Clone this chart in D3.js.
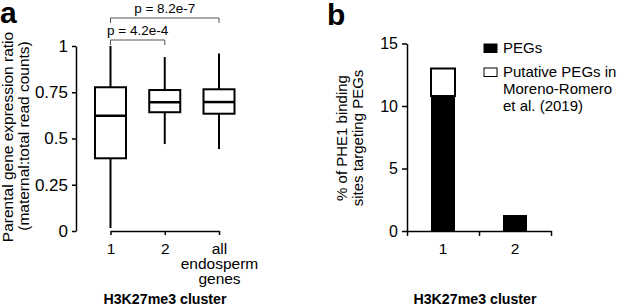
<!DOCTYPE html>
<html>
<head>
<meta charset="utf-8">
<script src="https://cdn.jsdelivr.net/npm/d3@7"></script>
<style>
  body { margin: 0; background: #fff; }
  svg { display: block; font-family: "Liberation Sans", Arial, sans-serif; }
  .axis path, .axis line { stroke: #000; stroke-width: 1.5; }
  .axis text { font-size: 15.5px; fill: #000; }
  .axis.ya text { font-size: 17px; }
  .axis.yb text { font-size: 16px; }
</style>
</head>
<body>
<svg id="chart" width="617" height="306"></svg>
<script>
// panel a: boxplot values
const boxCats = ["1", "2", "all endosperm genes"],
    whiskerLow = [0.016, 0.47, 0.443],
    q1 = [0.393, 0.642, 0.634],
    median = [0.623, 0.696, 0.697],
    q3 = [0.777, 0.762, 0.766],
    whiskerHigh = [1.0, 0.94, 0.96],
    aTicks = [0, 0.25, 0.5, 0.75, 1];

const pvals = [
    { from: "1", to: "2", label: "p = 4.2e-4", y: 40 },
    { from: "1", to: "all endosperm genes", label: "p = 8.2e-7", y: 18 }
];

// panel b: stacked bars
const barCats = ["1", "2"],
    pegs = [10.8, 1.28],
    putative = [2.2, 0],
    bTicks = [0, 5, 10, 15],
    legendLabels = ["PEGs", "Putative PEGs in|Moreno-Romero|et al. (2019)"];

const svg = d3.select("#chart");

// ---------- panel a ----------
const xa = d3.scalePoint().domain(boxCats).range([110.5, 219]),
    ya = d3.scaleLinear().domain([0, 1]).range([231, 46]),
    boxW = 31;

svg.append("g").attr("class", "axis ya")
    .attr("transform", "translate(76,0)")
    .call(d3.axisLeft(ya).tickValues(aTicks).tickSize(4).tickSizeOuter(0).tickPadding(4)
        .tickFormat(d => String(d)));

const xAxA = svg.append("g").attr("class", "axis")
    .attr("transform", "translate(0,231)")
    .call(d3.axisBottom(xa).tickSize(4).tickSizeOuter(0).tickPadding(8));
xAxA.selectAll(".tick text").each(function(d) {
    const t = d3.select(this), words = d.split(" ");
    t.text(null);
    words.forEach((w, i) => t.append("tspan").attr("x", 0).attr("dy", i === 0 ? "0.71em" : 15).text(w));
});

const boxes = svg.append("g").selectAll("g").data(boxCats).enter().append("g");
boxes.append("line")
    .attr("x1", d => xa(d)).attr("x2", d => xa(d))
    .attr("y1", (d, i) => ya(whiskerLow[i])).attr("y2", (d, i) => ya(whiskerHigh[i]))
    .attr("stroke", "#000").attr("stroke-width", 2);
boxes.append("rect")
    .attr("x", d => xa(d) - boxW / 2).attr("width", boxW)
    .attr("y", (d, i) => ya(q3[i])).attr("height", (d, i) => ya(q1[i]) - ya(q3[i]))
    .attr("fill", "#fff").attr("stroke", "#000").attr("stroke-width", 2);
boxes.append("line")
    .attr("x1", d => xa(d) - boxW / 2).attr("x2", d => xa(d) + boxW / 2)
    .attr("y1", (d, i) => ya(median[i])).attr("y2", (d, i) => ya(median[i]))
    .attr("stroke", "#000").attr("stroke-width", 2.5);

pvals.forEach(p => {
    const x1 = xa(p.from), x2 = xa(p.to);
    svg.append("path")
        .attr("d", `M${x1},${p.y + 5}V${p.y}H${x2}V${p.y + 5}`)
        .attr("fill", "none").attr("stroke", "#555").attr("stroke-width", 1);
    svg.append("text")
        .attr("x", (x1 + x2) / 2).attr("y", p.y - 5)
        .attr("text-anchor", "middle").attr("font-size", 13.5)
        .text(p.label);
});

svg.append("text")
    .attr("transform", "translate(13,137) rotate(-90)")
    .attr("text-anchor", "middle").attr("font-size", 15.5)
    .text("Parental gene expression ratio");
svg.append("text")
    .attr("transform", "translate(29,136) rotate(-90)")
    .attr("text-anchor", "middle").attr("font-size", 15.5)
    .text("(maternal:total read counts)");

svg.append("text").attr("x", 165).attr("y", 304)
    .attr("text-anchor", "middle").attr("font-size", 14.2).attr("font-weight", "bold")
    .text("H3K27me3 cluster");
svg.append("text").attr("x", 0).attr("y", 23)
    .attr("font-size", 30).attr("font-weight", "bold").text("a");

// ---------- panel b ----------
const xb = d3.scaleBand().domain(barCats).range([407, 551]).paddingInner(2 / 3).paddingOuter(1 / 3),
    xbTicks = d3.scaleLinear().domain([0, barCats.length]).range([407, 551]),
    yb = d3.scaleLinear().domain([0, 15]).range([231, 43.5]);

svg.append("g").attr("class", "axis yb")
    .attr("transform", "translate(407,0)")
    .call(d3.axisLeft(yb).tickValues(bTicks).tickSize(5).tickSizeOuter(0).tickPadding(4));

svg.append("g").attr("class", "axis")
    .attr("transform", "translate(0,231)")
    .call(d3.axisBottom(xbTicks).ticks(barCats.length).tickSize(5).tickSizeOuter(0).tickFormat(""));
svg.append("g").attr("class", "axis")
    .attr("transform", "translate(0,231)")
    .call(d3.axisBottom(xb).tickSize(0).tickPadding(12))
    .select(".domain").remove();

svg.append("g").selectAll("rect.peg").data(barCats).enter().append("rect")
    .attr("x", d => xb(d)).attr("width", xb.bandwidth())
    .attr("y", (d, i) => yb(pegs[i])).attr("height", (d, i) => yb(0) - yb(pegs[i]))
    .attr("fill", "#000");
svg.append("g").selectAll("rect.put").data(barCats.filter((d, i) => putative[i] > 0)).enter().append("rect")
    .attr("x", d => xb(d)).attr("width", xb.bandwidth())
    .attr("y", d => { const i = barCats.indexOf(d); return yb(pegs[i] + putative[i]); })
    .attr("height", d => { const i = barCats.indexOf(d); return yb(pegs[i]) - yb(pegs[i] + putative[i]); })
    .attr("fill", "#fff").attr("stroke", "#000").attr("stroke-width", 2);

// legend
const legend = svg.append("g");
[{ y: 44, fill: "#000" }, { y: 68, fill: "#fff" }].forEach((s, i) => {
    legend.append("rect").attr("x", 484).attr("y", s.y).attr("width", 13).attr("height", 8.5)
        .attr("fill", s.fill).attr("stroke", "#000").attr("stroke-width", 1);
    const t = legend.append("text").attr("x", 503).attr("y", s.y + 9).attr("font-size", 15);
    legendLabels[i].split("|").forEach((w, j) =>
        t.append("tspan").attr("x", 503).attr("dy", j === 0 ? 0 : 17).text(w));
});

svg.append("text")
    .attr("transform", "translate(347,138) rotate(-90)")
    .attr("text-anchor", "middle").attr("font-size", 15)
    .text("% of PHE1 binding");
svg.append("text")
    .attr("transform", "translate(363,138) rotate(-90)")
    .attr("text-anchor", "middle").attr("font-size", 15)
    .text("sites targeting PEGs");

svg.append("text").attr("x", 475).attr("y", 304)
    .attr("text-anchor", "middle").attr("font-size", 14.2).attr("font-weight", "bold")
    .text("H3K27me3 cluster");
svg.append("text").attr("x", 327).attr("y", 25)
    .attr("font-size", 30).attr("font-weight", "bold").text("b");
</script>
</body>
</html>
